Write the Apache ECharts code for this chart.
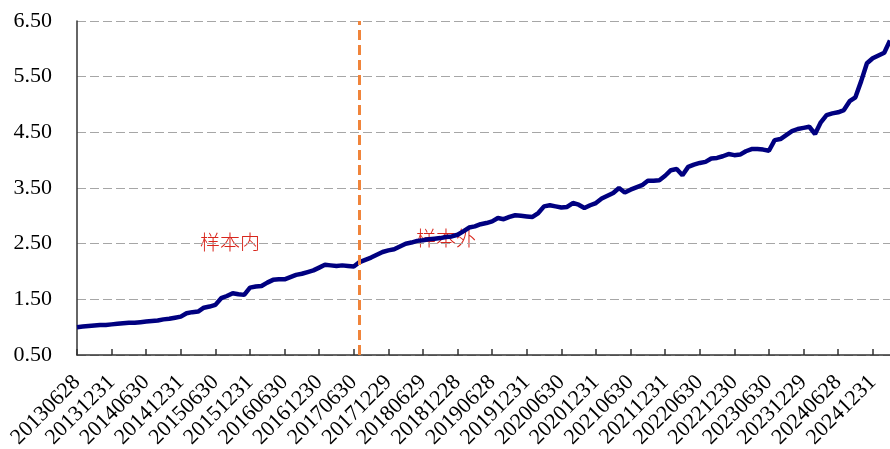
<!DOCTYPE html>
<html>
<head>
<meta charset="utf-8">
<script src="https://cdn.jsdelivr.net/npm/echarts@6/dist/echarts.min.js"></script>
<style>
  html, body { margin: 0; padding: 0; background: #fff; }
  #chart { width: 890px; height: 449px; }
</style>
</head>
<body>
<div id="chart"></div>
<script>
// 月末日期
const dates = [
  '20130628', '20130731', '20130830', '20130930', '20131031', '20131129', '20131231',
  '20140130', '20140228', '20140331', '20140430', '20140530', '20140630', '20140731', '20140829', '20140930', '20141031', '20141128', '20141231',
  '20150130', '20150227', '20150331', '20150430', '20150529', '20150630', '20150731', '20150831', '20150930', '20151030', '20151130', '20151231',
  '20160129', '20160229', '20160331', '20160429', '20160531', '20160630', '20160729', '20160831', '20160930', '20161031', '20161130', '20161230',
  '20170126', '20170228', '20170331', '20170428', '20170531', '20170630', '20170731', '20170831', '20170929', '20171031', '20171130', '20171229',
  '20180131', '20180228', '20180330', '20180427', '20180531', '20180629', '20180731', '20180831', '20180928', '20181031', '20181130', '20181228',
  '20190131', '20190228', '20190329', '20190430', '20190531', '20190628', '20190731', '20190830', '20190930', '20191031', '20191129', '20191231',
  '20200123', '20200228', '20200331', '20200430', '20200529', '20200630', '20200731', '20200831', '20200930', '20201030', '20201130', '20201231',
  '20210129', '20210226', '20210331', '20210430', '20210531', '20210630', '20210730', '20210831', '20210930', '20211029', '20211130', '20211231',
  '20220128', '20220228', '20220331', '20220429', '20220531', '20220630', '20220729', '20220831', '20220930', '20221031', '20221130', '20221230',
  '20230131', '20230228', '20230331', '20230428', '20230531', '20230630', '20230731', '20230831', '20230928', '20231031', '20231130', '20231229',
  '20240131', '20240229', '20240329', '20240430', '20240531', '20240628', '20240731', '20240830', '20240930', '20241031', '20241129', '20241231',
  '20250127', '20250228', '20250331'
]

// 净值
const nav = [
  1.00, 1.01, 1.02, 1.03, 1.04, 1.04, 1.05,
  1.06, 1.07, 1.08, 1.08, 1.09, 1.10, 1.11, 1.12, 1.14, 1.15, 1.17, 1.19,
  1.25, 1.27, 1.28, 1.35, 1.37, 1.40, 1.52, 1.56, 1.61, 1.59, 1.58, 1.71,
  1.73, 1.74, 1.80, 1.85, 1.86, 1.86, 1.90, 1.94, 1.96, 1.99, 2.02, 2.07,
  2.12, 2.11, 2.10, 2.11, 2.10, 2.09, 2.17, 2.21, 2.25, 2.30, 2.35, 2.38,
  2.40, 2.45, 2.50, 2.52, 2.55, 2.56, 2.58, 2.59, 2.60, 2.62, 2.63, 2.66,
  2.72, 2.79, 2.81, 2.85, 2.87, 2.90, 2.96, 2.94, 2.98, 3.01, 3.00, 2.99,
  2.98, 3.05, 3.17, 3.19, 3.17, 3.15, 3.16, 3.23, 3.20, 3.14, 3.19, 3.23,
  3.31, 3.36, 3.41, 3.50, 3.42, 3.47, 3.51, 3.55, 3.63, 3.63, 3.64, 3.72,
  3.82, 3.84, 3.73, 3.88, 3.92, 3.95, 3.97, 4.03, 4.04, 4.07, 4.11, 4.09,
  4.10, 4.16, 4.20, 4.20, 4.19, 4.17, 4.36, 4.38, 4.45, 4.52, 4.56, 4.58,
  4.60, 4.47, 4.68, 4.81, 4.84, 4.86, 4.90, 5.06, 5.13, 5.42, 5.74, 5.83,
  5.88, 5.93, 6.15
]

// 样本内/外分界
const splitDate = '20170731'
const inSampleText = '样本内'
const outSampleText = '样本外'

const serif = '"Liberation Serif", "Times New Roman", serif'
const cjk = '"Noto Sans CJK SC", sans-serif'

const chart = echarts.init(document.getElementById('chart'))
chart.setOption({
  animation: false,
  grid: { left: 77, right: 0, top: 21, bottom: 94, containLabel: false, outerBoundsMode: 'none' },
  xAxis: {
    type: 'category',
    data: dates,
    boundaryGap: false,
    axisLine: { lineStyle: { color: '#333', width: 1.5 } },
    axisTick: { show: true, inside: true, length: 6, interval: 5, lineStyle: { color: '#333', width: 1.5 } },
    axisLabel: {
      interval: 5,
      rotate: 45,
      margin: 24,
      color: '#000',
      fontFamily: serif,
      fontSize: 22
    },
    splitLine: { show: false }
  },
  yAxis: {
    type: 'value',
    min: 0.5,
    max: 6.5,
    interval: 1,
    axisLine: { show: true, lineStyle: { color: '#333', width: 1.5 } },
    axisTick: { show: false },
    axisLabel: {
      margin: 25,
      color: '#000',
      fontFamily: serif,
      fontSize: 22,
      formatter: v => v.toFixed(2)
    },
    splitLine: { lineStyle: { color: '#a6a6a6', width: 1.2, type: [9, 4] } }
  },
  graphic: [
    { type: 'text', left: 200, top: 232, style: { text: inSampleText, fill: '#d8261c', font: '300 20px ' + cjk } },
    { type: 'text', left: 416, top: 228, style: { text: outSampleText, fill: '#d8261c', font: '300 20px ' + cjk } }
  ],
  series: [
    {
      type: 'line',
      data: nav,
      showSymbol: false,
      lineStyle: { color: '#000080', width: 4.5 },
      markLine: {
        silent: true,
        symbol: 'none',
        label: { show: false },
        lineStyle: { color: '#f0843a', width: 3, type: [10, 5] },
        data: [{ xAxis: splitDate }]
      }
    }
  ]
})
</script>
</body>
</html>
